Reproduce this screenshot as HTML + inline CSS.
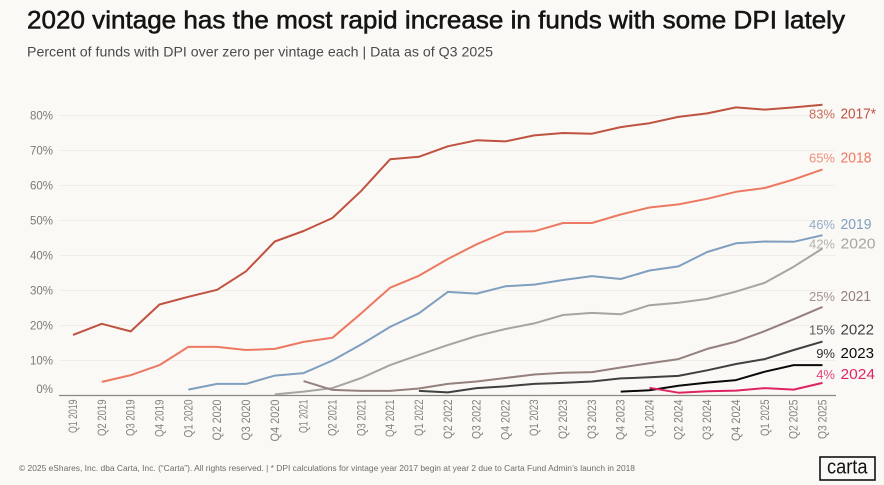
<!DOCTYPE html>
<html lang="en">
<head>
<meta charset="utf-8">
<title>2020 vintage DPI chart</title>
<style>
html,body{margin:0;padding:0;background:#fbf9f5;}
body{width:884px;height:485px;overflow:hidden;}
svg{display:block;font-family:"Liberation Sans",sans-serif;}
</style>
</head>
<body>
<svg id="chart" width="884" height="485" viewBox="0 0 884 485" xmlns="http://www.w3.org/2000/svg">
<rect width="884" height="485" fill="#fbf9f5"/>
<text x="27" y="28.5" font-size="25" fill="#141414" stroke="#141414" stroke-width="0.55" textLength="818" lengthAdjust="spacingAndGlyphs">2020 vintage has the most rapid increase in funds with some DPI lately</text>
<text x="27" y="56.7" font-size="14" fill="#4a4a4a" textLength="466" lengthAdjust="spacingAndGlyphs">Percent of funds with DPI over zero per vintage each | Data as of Q3 2025</text>
<g id="grid"></g>
<g id="yticks"></g>
<line x1="59" x2="836" y1="395.5" y2="395.5" stroke="#8a8784" stroke-width="1.2"/>
<g id="xticks"></g>
<g id="series"></g>
<g id="labels"></g>
<text x="19" y="471" font-size="8.6" fill="#6e6c69" textLength="616" lengthAdjust="spacingAndGlyphs">© 2025 eShares, Inc. dba Carta, Inc. (“Carta”). All rights reserved.  |  * DPI calculations for vintage year 2017 begin at year 2 due to Carta Fund Admin’s launch in 2018</text>
<g>
<rect x="820" y="457" width="55" height="23" fill="none" stroke="#111" stroke-width="1.6"/>
<text x="827" y="473.5" font-size="20" fill="#111" textLength="40.5" lengthAdjust="spacingAndGlyphs">carta</text>
</g>
</svg>
<script>
const quarters = ["Q1 2019","Q2 2019","Q3 2019","Q4 2019","Q1 2020","Q2 2020","Q3 2020","Q4 2020","Q1 2021","Q2 2021","Q3 2021","Q4 2021","Q1 2022","Q2 2022","Q3 2022","Q4 2022","Q1 2023","Q2 2023","Q3 2023","Q4 2023","Q1 2024","Q2 2024","Q3 2024","Q4 2024","Q1 2025","Q2 2025","Q3 2025"];
const yTickValues = [0,10,20,30,40,50,60,70,80];
const vintage2017 = [17.3,20.5,18.3,26,28.2,30.2,35.5,44,47,50.7,58.5,67.5,68.2,71.2,72.9,72.6,74.3,75,74.8,76.7,77.8,79.6,80.6,82.3,81.7,82.3,83.1];
const vintage2018 = [null,3.9,5.8,8.7,13.9,13.9,13,13.3,15.3,16.5,23.5,30.8,34.2,39,43.2,46.7,46.9,49.3,49.3,51.7,53.7,54.6,56.2,58.2,59.3,61.7,64.6];
const vintage2019 = [null,null,null,null,1.7,3.3,3.3,5.7,6.4,10,14.6,19.6,23.5,29.6,29.1,31.2,31.7,33,34.1,33.3,35.7,36.9,41,43.5,44,43.9,45.8];
const vintage2020 = [null,null,null,null,null,null,null,0.3,1.1,2.1,5,8.7,11.6,14.4,17,19,20.6,23,23.6,23.2,25.8,26.5,27.6,29.7,32.2,36.8,42];
const vintage2021 = [null,null,null,null,null,null,null,null,4.1,1.6,1.3,1.3,2,3.3,4,5,6,6.5,6.7,8,9.2,10.4,13.3,15.4,18.4,21.8,25.3];
const vintage2022 = [null,null,null,null,null,null,null,null,null,null,null,null,1.3,0.9,2.1,2.6,3.3,3.6,4,4.9,5.2,5.6,7.2,9,10.4,13,15.4];
const vintage2023 = [null,null,null,null,null,null,null,null,null,null,null,null,null,null,null,null,null,null,null,1.1,1.5,2.8,3.7,4.4,6.8,8.7,8.7];
const vintage2024 = [null,null,null,null,null,null,null,null,null,null,null,null,null,null,null,null,null,null,null,null,2.2,0.8,1.2,1.4,2.1,1.7,3.6];
const seriesNames = ["2017*","2018","2019","2020","2021","2022","2023","2024"];
const seriesValues = [vintage2017,vintage2018,vintage2019,vintage2020,vintage2021,vintage2022,vintage2023,vintage2024];

const seriesColors = ["#bf5240","#ec7a62","#7f9fc0","#a6a6a1","#94807c","#404040","#0a0a0a","#df2464"];
const labelOffsets = [9,-12,-11,-5,-11,-12,-12,-9];
const NS = "http://www.w3.org/2000/svg";
const xScale = i => 73 + i * (749.5 / (quarters.length - 1));
const yScale = v => 395.5 - v * 3.5;
const charWidths = {Q:8,"1":2.5,"2":5.5,"3":5.5,"4":6.5,"5":5.5,"9":5.5,"0":7," ":2.5};
const yearCharWidths = {"0":9.5,"1":5,"2":8,"3":8,"4":9,"7":8,"8":8.5,"9":8.5,"*":5};

function make(tag, attrs, text, parent) {
  const el = document.createElementNS(NS, tag);
  for (const k in attrs) el.setAttribute(k, attrs[k]);
  if (text !== undefined) el.textContent = text;
  parent.appendChild(el);
  return el;
}

const grid = document.getElementById("grid");
const yticks = document.getElementById("yticks");
yTickValues.forEach(v => {
  if (v > 0) {
    const g = make("line", {x1:59, x2:835, y1:yScale(v), y2:yScale(v), stroke:"#f1eee9", "stroke-width":1}, undefined, grid);
    
    
  }
  const t = make("text", {x:53, y:(v === 0 ? yScale(v) - 2.5 : yScale(v) + 4), "font-size":11.5, fill:"#7d7a75", "text-anchor":"end"}, v + "%", yticks);
  
  
});

const xticks = document.getElementById("xticks");
quarters.forEach((q, i) => {
  const len = [...q].reduce((s, c) => s + (charWidths[c] || 5.5), 0);
  const x = xScale(i) + 4;
  const t = make("text", {x:x, y:399.5, "font-size":11.5, fill:"#85827d", "text-anchor":"end", transform:"rotate(-90 " + x + " 399.5)", textLength:len, lengthAdjust:"spacingAndGlyphs"}, q, xticks);
  
  
});

const seriesGroup = document.getElementById("series");
const labels = document.getElementById("labels");
seriesValues.forEach((vals, s) => {
  const pts = [];
  vals.forEach((v, i) => { if (v !== null) pts.push(xScale(i).toFixed(1) + "," + yScale(v).toFixed(1)); });
  const line = make("polyline", {points:pts.join(" "), fill:"none", stroke:seriesColors[s], "stroke-width":2, "stroke-linejoin":"round"}, undefined, seriesGroup);
  
  

  const last = vals[vals.length - 1];
  const y = yScale(last) + labelOffsets[s] + 5;
  const pct = make("text", {x:835, y:y, "font-size":13, fill:seriesColors[s], "fill-opacity":0.85, "text-anchor":"end"}, Math.round(last) + "%", labels);
  
  
  const yrLen = [...seriesNames[s]].reduce((w, c) => w + yearCharWidths[c], 0);
  const yr = make("text", {x:840.5, y:y, "font-size":14.5, fill:seriesColors[s], textLength:yrLen, lengthAdjust:"spacingAndGlyphs"}, seriesNames[s], labels);
  
  
});
</script>
</body>
</html>
